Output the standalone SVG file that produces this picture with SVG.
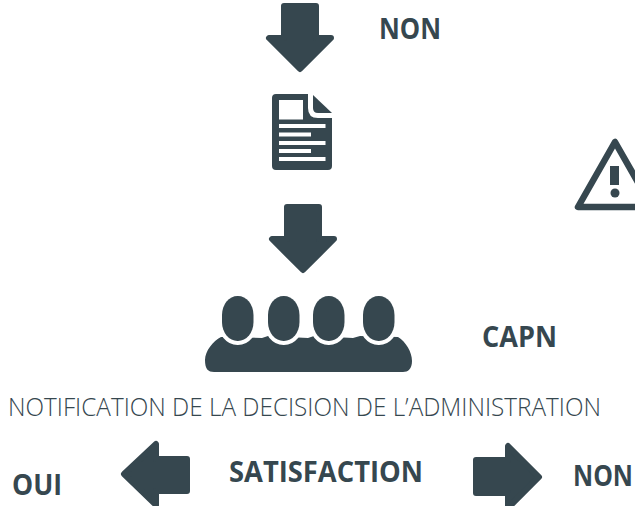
<svg xmlns="http://www.w3.org/2000/svg" width="635" height="506" viewBox="0 0 635 506">
<style>
.i{fill:#36474f;stroke:#36474f;stroke-linejoin:round}
.a{stroke-width:6}
.w{fill:#fff}
text{fill:#36474f;font-family:"Open Sans","Liberation Sans",sans-serif}
.b{font-weight:700;font-size:28.500px}
.l{font-weight:300;font-size:24px}
.h{fill:#36474f;stroke:#fff;stroke-width:8;paint-order:stroke}
</style>
<rect width="635" height="506" fill="#fff"/>
<g id="connectors">
<path class="i a" d="M284 6H316V38H331L300 69L269 38H284Z"/>
<path class="i a" d="M287 207H319V239H334L303 270L272 239H287Z"/>
<path class="i a" d="M187 459V491H156V505L124 474L156 444V459Z"/>
<path class="i a" d="M476 460V493H508V508L539 477L508 446V460Z"/>
</g>
<g id="document">
<path d="M276 94H308V108Q308 118 318 118H332V166Q332 170 328 170H276Q272 170 272 166V98Q272 94 276 94Z" fill="#36474f"/>
<path d="M313 95L332 113H318Q313 113 313 108Z" fill="#36474f"/>
<rect class="w" x="279" y="100" width="24" height="19.500"/>
<rect class="w" x="279" y="124" width="46.500" height="4"/>
<rect class="w" x="279" y="132.500" width="32" height="4"/>
<rect class="w" x="279" y="141" width="46.500" height="4"/>
<rect class="w" x="279" y="149" width="32" height="4"/>
<rect class="w" x="279" y="157" width="46.500" height="4"/>
</g>
<g id="capn">
<path d="M205 360C205 351 213 341 221 337L262 338L268 336L308 338L314 336L353 338L360 336L398 337C406 342 412 352 412 361C412 369 408 372 403 372H214C208 372 205 369 205 360Z" fill="#36474f"/>
<rect class="h" x="222" y="296" width="31.500" height="45" rx="15.500" ry="19"/>
<rect class="h" x="268" y="296" width="31.500" height="45" rx="15.500" ry="19"/>
<rect class="h" x="313" y="296" width="31.500" height="45" rx="15.500" ry="19"/>
<rect class="h" x="363" y="296" width="31.500" height="45" rx="15.500" ry="19"/>
</g>
<g id="warning">
<path d="M615 142L578 207H652Z" fill="none" stroke="#36474f" stroke-width="6.500" stroke-linejoin="round"/>
<rect x="610" y="166" width="9" height="19" fill="#36474f"/>
<circle cx="615" cy="193" r="4.500" fill="#36474f"/>
</g>
<g id="labels">
<text class="b" x="379" y="39" textLength="62" lengthAdjust="spacingAndGlyphs">NON</text>
<text class="b" x="482" y="347" textLength="75" lengthAdjust="spacingAndGlyphs">CAPN</text>
<text class="l" transform="translate(8 416) scale(1 1.100)" textLength="593" lengthAdjust="spacingAndGlyphs">NOTIFICATION DE LA DECISION DE L’ADMINISTRATION</text>
<text class="b" x="229" y="482" textLength="194" lengthAdjust="spacingAndGlyphs">SATISFACTION</text>
<text class="b" x="12" y="495" textLength="50" lengthAdjust="spacingAndGlyphs">OUI</text>
<text class="b" transform="translate(573 486) scale(1 1.190)" style="font-size:24px" textLength="60" lengthAdjust="spacingAndGlyphs">NON</text>
</g>
</svg>
